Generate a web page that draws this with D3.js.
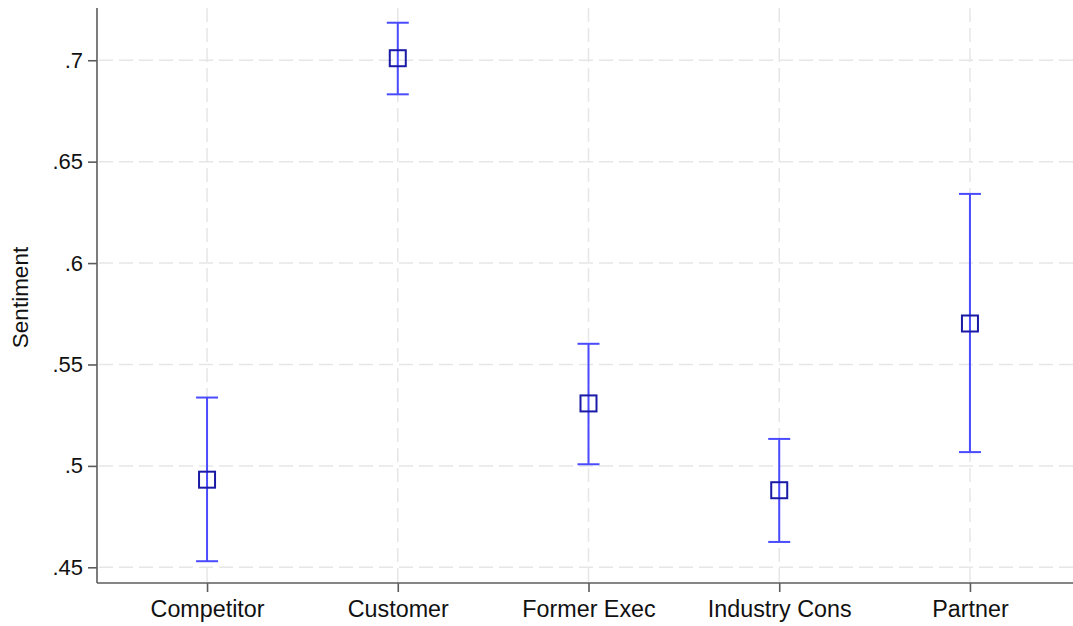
<!DOCTYPE html>
<html>
<head>
<meta charset="utf-8">
<script src="https://cdn.jsdelivr.net/npm/d3@7"></script>
<style>
  html, body { margin: 0; padding: 0; background: #fff; }
  svg { display: block; }
  text { font-family: Arial, "Liberation Sans", sans-serif; fill: #111; }
</style>
</head>
<body>
<svg id="chart" width="1073" height="626"></svg>
<script>
// Mean sentiment by source type, with confidence intervals
const categories = ["Competitor", "Customer", "Former Exec", "Industry Cons", "Partner"];
const means      = [0.4932, 0.7010, 0.5308, 0.4880, 0.5702];
const lower      = [0.4530, 0.6832, 0.5008, 0.4625, 0.5068];
const upper      = [0.5337, 0.7185, 0.5602, 0.5133, 0.6341];
const yTicks     = [0.45, 0.5, 0.55, 0.6, 0.65, 0.7];
const yLabel     = "Sentiment";

const W = 1073, H = 626;
const plotLeft = 97, plotRight = 1080, plotTop = 8, plotBottom = 583;

const svg = d3.select("#chart");

const x = d3.scalePoint().domain(categories).range([plotLeft, plotRight]).padding(0.577);
const y = d3.scaleLinear().domain([0.44226, 0.72576]).range([plotBottom, plotTop]);

const gridColor = "#e6e6e6";
const dash = "14,6";

// horizontal grid
svg.append("g").selectAll("line").data(yTicks).join("line")
  .attr("x1", plotLeft + 2).attr("x2", W)
  .attr("y1", d => y(d)).attr("y2", d => y(d))
  .attr("stroke", gridColor).attr("stroke-width", 1.5).attr("stroke-dasharray", dash);

// vertical grid
svg.append("g").selectAll("line").data(categories).join("line")
  .attr("x1", d => x(d)).attr("x2", d => x(d))
  .attr("y1", plotTop).attr("y2", plotBottom)
  .attr("stroke", gridColor).attr("stroke-width", 1.5).attr("stroke-dasharray", dash);

// y axis
const fmt = d => String(+d.toFixed(2)).replace(/^0\./, ".");
const yAxis = svg.append("g").attr("transform", `translate(${plotLeft},0)`)
  .call(d3.axisLeft(y).tickValues(yTicks).tickFormat(fmt).tickSize(9).tickPadding(5));
yAxis.select(".domain").attr("d", `M0,${plotTop}V${plotBottom}`);

// x axis
const xAxis = svg.append("g").attr("transform", `translate(0,${plotBottom})`)
  .call(d3.axisBottom(x).tickSize(9).tickPadding(8));
xAxis.select(".domain").attr("d", `M${plotLeft},0H${W}`);

[yAxis, xAxis].forEach(g => {
  g.select(".domain").attr("stroke", "#5c5c5c").attr("stroke-width", 1.6);
  g.selectAll(".tick line").attr("stroke", "#5c5c5c").attr("stroke-width", 1.6);
  g.selectAll(".tick text").attr("fill", "#111")
    .attr("font-family", "Arial, 'Liberation Sans', sans-serif");
});
yAxis.selectAll(".tick text").attr("font-size", 22);
xAxis.selectAll(".tick text").attr("font-size", 23.3);

// y axis title
svg.append("text")
  .attr("transform", `translate(28,${(plotTop + plotBottom) / 2 + 2}) rotate(-90)`)
  .attr("text-anchor", "middle")
  .attr("font-size", 22.5)
  .text(yLabel);

// error bars
const barColor = "#4a4aff";
const capHalf = 11;
const rows = categories.map((c, i) => ({ c, m: means[i], lo: lower[i], hi: upper[i] }));

const eb = svg.append("g").selectAll("g").data(rows).join("g");
eb.append("line")
  .attr("x1", d => x(d.c)).attr("x2", d => x(d.c))
  .attr("y1", d => y(d.lo)).attr("y2", d => y(d.hi))
  .attr("stroke", barColor).attr("stroke-width", 2);
eb.append("line")
  .attr("x1", d => x(d.c) - capHalf).attr("x2", d => x(d.c) + capHalf)
  .attr("y1", d => y(d.hi)).attr("y2", d => y(d.hi))
  .attr("stroke", barColor).attr("stroke-width", 2);
eb.append("line")
  .attr("x1", d => x(d.c) - capHalf).attr("x2", d => x(d.c) + capHalf)
  .attr("y1", d => y(d.lo)).attr("y2", d => y(d.lo))
  .attr("stroke", barColor).attr("stroke-width", 2);

// hollow square markers at the means
const half = 8;
eb.append("rect")
  .attr("x", d => x(d.c) - half).attr("y", d => y(d.m) - half)
  .attr("width", half * 2).attr("height", half * 2)
  .attr("fill", "none").attr("stroke", "#1a1aa6").attr("stroke-width", 2);
</script>
</body>
</html>
